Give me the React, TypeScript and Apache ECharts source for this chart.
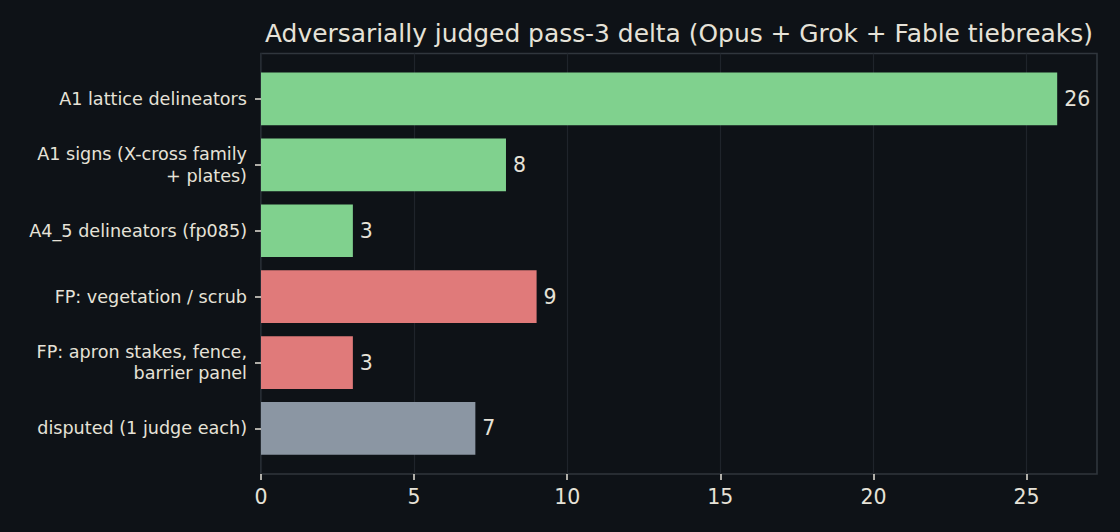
import React, { useEffect, useRef } from "react";
import * as echarts from "echarts";

const categories = [
  "A1 lattice delineators",
  "A1 signs (X-cross family\n+ plates)",
  "A4_5 delineators (fp085)",
  "FP: vegetation / scrub",
  "FP: apron stakes, fence,\nbarrier panel",
  "disputed (1 judge each)",
];
const values = [26, 8, 3, 9, 3, 7];
const groups = ["tp", "tp", "tp", "fp", "fp", "disputed"];
const xTicks = [0, 5, 10, 15, 20, 25];
const titleText = "Adversarially judged pass-3 delta (Opus + Grok + Fable tiebreaks)";

const groupColor: Record<string, string> = {
  tp: "#80d18e",
  fp: "#e07a7a",
  disputed: "#8b96a3",
};

const BG = "#0e1217";
const TEXT = "#e6e2d8";
const SPINE = "#30363d";
const GRID = "#1f242b";
const FONT = "DejaVu Sans";

export default function App() {
  const ref = useRef<HTMLDivElement>(null);
  useEffect(() => {
    document.body.style.margin = "0";
    document.body.style.background = BG;
    if (!ref.current) return;
    const chart = echarts.init(ref.current, undefined, { renderer: "svg" });
    const xMax = 27.3;
    chart.setOption({
      animation: false,
      backgroundColor: BG,
      textStyle: { fontFamily: FONT },
      graphic: [
        {
          type: "text",
          x: 679,
          y: 33.5,
          style: {
            text: titleText,
            fill: TEXT,
            fontSize: 24.9,
            fontFamily: FONT,
            textAlign: "center",
            textVerticalAlign: "middle",
          },
        },
      ],
      grid: [
        {
          left: 261,
          right: 23,
          top: 53.5,
          bottom: 58,
          show: true,
          borderColor: SPINE,
          borderWidth: 1.6,
          backgroundColor: "transparent",
        },
        { left: 261, right: 23, top: 66, height: 395.4 },
      ],
      xAxis: [
        {
          gridIndex: 0,
          type: "value",
          min: 0,
          max: xMax,
          interval: 5,
          axisLine: { show: false },
          axisTick: {
            show: true,
            length: 6,
            customValues: xTicks,
            lineStyle: { color: TEXT, width: 1.5 },
          },
          axisLabel: {
            fontSize: 20.5,
            color: TEXT,
            fontFamily: FONT,
            margin: 12,
            customValues: xTicks,
            formatter: (v: number) => String(v),
          },
          splitLine: { show: true, lineStyle: { color: GRID, width: 1.2 } },
        },
        { gridIndex: 1, type: "value", min: 0, max: xMax, show: false },
      ],
      yAxis: [
        { gridIndex: 0, type: "value", show: false },
        {
          gridIndex: 1,
          type: "category",
          inverse: true,
          data: categories,
          axisLine: { show: false },
          axisTick: {
            show: true,
            alignWithLabel: true,
            length: 6,
            lineStyle: { color: TEXT, width: 1.5 },
          },
          axisLabel: {
            fontSize: 17.6,
            color: TEXT,
            fontFamily: FONT,
            margin: 14,
            lineHeight: 21.5,
            align: "right",
          },
          splitLine: { show: false },
        },
      ],
      series: [
        {
          type: "bar",
          xAxisIndex: 1,
          yAxisIndex: 1,
          barWidth: 52.7,
          data: values.map((v, i) => ({
            value: v,
            itemStyle: { color: groupColor[groups[i]] },
          })),
          label: {
            show: true,
            position: "right",
            distance: 7,
            fontSize: 20.5,
            color: TEXT,
            fontFamily: FONT,
          },
        },
      ],
    });
    return () => chart.dispose();
  }, []);
  return (
    <div
      ref={ref}
      style={{ position: "absolute", left: 0, top: 0, width: 1120, height: 532 }}
    />
  );
}
